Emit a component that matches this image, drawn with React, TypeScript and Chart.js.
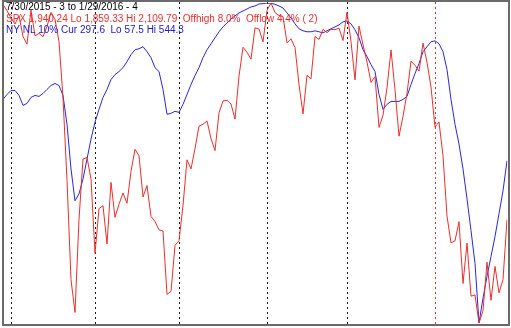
import React, { useEffect, useRef } from "react";
import { Chart, registerables } from "chart.js";

Chart.register(...registerables);

// SPX daily closes, 7/30/2015 .. 1/29/2016 (trading days)
const spx = [
  2108.57, 2103.84, 2098.04, 2093.32, 2099.84, 2083.56, 2077.57, 2104.18, 2084.07, 2086.05,
  2083.39, 2091.54, 2102.44, 2096.92, 2079.61, 2035.73, 1970.89, 1893.21, 1867.61, 1940.51,
  1987.66, 1988.87, 1972.18, 1913.85, 1948.86, 1951.13, 1921.22, 1969.41, 1942.04, 1952.29,
  1961.05, 1953.03, 1978.09, 1995.31, 1990.2, 1958.03, 1966.97, 1942.74, 1938.76, 1932.24,
  1931.34, 1881.77, 1884.09, 1920.03, 1923.82, 1951.36, 1987.05, 1979.92, 1995.83, 2013.43,
  2014.89, 2017.46, 2003.69, 1994.24, 2023.86, 2033.11, 2033.66, 2030.77, 2018.94, 2052.51,
  2075.15, 2071.18, 2065.89, 2090.35, 2089.41, 2079.36, 2104.05, 2109.79, 2102.31, 2099.93,
  2099.2, 2078.58, 2081.72, 2075.0, 2045.97, 2023.04, 2053.19, 2050.44, 2083.58, 2081.24,
  2089.17, 2086.59, 2089.14, 2088.87, 2090.11, 2080.41, 2102.63, 2079.51, 2049.62, 2091.69,
  2077.07, 2063.59, 2047.62, 2052.23, 2012.37, 2021.94, 2043.41, 2073.07, 2041.89, 2005.55,
  2021.15, 2038.97, 2064.29, 2060.99, 2056.5, 2078.36, 2063.36, 2043.94, 2012.66, 2016.71,
  1990.26, 1943.09, 1922.03, 1923.67, 1938.68, 1890.28, 1921.84, 1880.33, 1881.33, 1859.33,
  1868.99, 1906.9, 1877.08, 1903.63, 1882.95, 1893.36, 1940.24,
];

// NY new lows, 10% smoothing (plotted on an inverted scale)
const nyNL = [
  204.2, 196.6, 190.5, 190.5, 198.1, 213.2, 210.2, 201.1, 198.1, 199.6,
  195.1, 189.0, 183.0, 180.0, 183.0, 198.1, 242.0, 310.0, 358.4, 347.8,
  325.1, 294.9, 264.6, 238.9, 219.3, 201.1, 189.0, 173.9, 166.4, 161.8,
  155.8, 146.7, 136.1, 128.6, 127.1, 124.0, 131.6, 140.7, 155.8, 161.8,
  189.0, 226.8, 225.3, 222.3, 223.8, 211.7, 196.6, 181.5, 167.9, 155.8,
  140.7, 128.6, 119.5, 110.4, 101.3, 93.8, 87.7, 81.7, 77.2, 72.6,
  69.6, 66.6, 63.5, 62.0, 59.0, 58.5, 57.5, 58.0, 59.5, 62.0,
  65.1, 72.6, 80.2, 89.2, 96.8, 99.8, 101.3, 101.3, 99.8, 101.3,
  102.9, 99.8, 96.8, 93.8, 90.8, 86.2, 84.7, 89.2, 98.3, 110.4,
  128.6, 139.1, 151.2, 161.8, 196.6, 219.3, 211.7, 207.2, 207.2, 207.2,
  204.2, 199.6, 181.5, 164.8, 149.7, 131.6, 124.0, 116.5, 115.0, 119.5,
  131.6, 158.8, 204.2, 242.0, 272.2, 310.0, 355.3, 403.7, 453.6, 544.3,
  506.5, 473.3, 443.0, 412.8, 378.0, 343.2, 297.6,
];

// indices of the first trading day of each month
const monthStarts = [2, 23, 44, 66, 86, 108];
const monthColors = ["#1a1a1a", "#1a1a1a", "#1a1a1a", "#1a1a1a", "#1a1a1a", "#e03030"];

const headerLines = [
  "7/30/2015 - 3 to 1/29/2016 - 4",
  "SPX 1,940.24 Lo 1,859.33 Hi 2,109.79  Offhigh 8.0%  Offlow 4.4% ( 2)",
  "NY NL 10% Cur 297.6  Lo 57.5 Hi 544.3",
];
const headerColors = ["#000000", "#e83030", "#2020c8"];

const spxLo = 1859.33;
const spxHi = 2109.79;
const nlLo = 57.5;
const nlHi = 544.3;

const days = spx.map((_, i) => String(i));

export default function App() {
  const ref = useRef<HTMLCanvasElement | null>(null);

  useEffect(() => {
    document.body.style.margin = "0";
    const canvas = ref.current;
    if (!canvas) return;

    const overlay = {
      id: "overlay",
      beforeDatasetsDraw(chart: any) {
        const { ctx } = chart;
        const xs = chart.scales.x;
        ctx.save();
        ctx.lineWidth = 1;
        ctx.setLineDash([2, 3]);
        monthStarts.forEach((d, i) => {
          const px = Math.round(xs.getPixelForValue(d)) + 0.5;
          ctx.strokeStyle = monthColors[i];
          ctx.beginPath();
          ctx.moveTo(px, 2);
          ctx.lineTo(px, 326);
          ctx.stroke();
        });
        ctx.restore();
      },
      afterDraw(chart: any) {
        const { ctx } = chart;
        ctx.save();
        ctx.font = "10px 'Liberation Sans', Arial, sans-serif";
        ctx.textBaseline = "alphabetic";
        headerLines.forEach((t, i) => {
          ctx.fillStyle = headerColors[i];
          ctx.fillText(t, 6, 10 + i * 11.5);
        });
        ctx.strokeStyle = "#6a6a6a";
        ctx.lineWidth = 2;
        ctx.setLineDash([]);
        ctx.strokeRect(3, 1, 506, 324);
        ctx.restore();
      },
    };

    const chart = new Chart(canvas, {
      type: "line",
      data: {
        labels: days,
        datasets: [
          {
            data: spx,
            borderColor: "rgb(238,45,45)",
            borderWidth: 1,
            pointRadius: 0,
            tension: 0,
            yAxisID: "y",
          },
          {
            data: nyNL,
            borderColor: "rgb(40,40,215)",
            borderWidth: 1,
            pointRadius: 0,
            tension: 0,
            yAxisID: "y2",
          },
        ],
      },
      options: {
        animation: false,
        responsive: false,
        devicePixelRatio: 1,
        layout: { padding: { left: 3, right: 4, top: 3, bottom: 5 } },
        plugins: { legend: { display: false }, tooltip: { enabled: false } },
        scales: {
          x: { type: "category", display: false, offset: false },
          y: { display: false, min: spxLo, max: spxHi },
          y2: { display: false, min: nlLo, max: nlHi, reverse: true },
        },
      },
      plugins: [overlay],
    });

    return () => chart.destroy();
  }, []);

  return (
    <div style={{ width: 511, height: 328, background: "#ffffff" }}>
      <canvas ref={ref} width={511} height={328} />
    </div>
  );
}
